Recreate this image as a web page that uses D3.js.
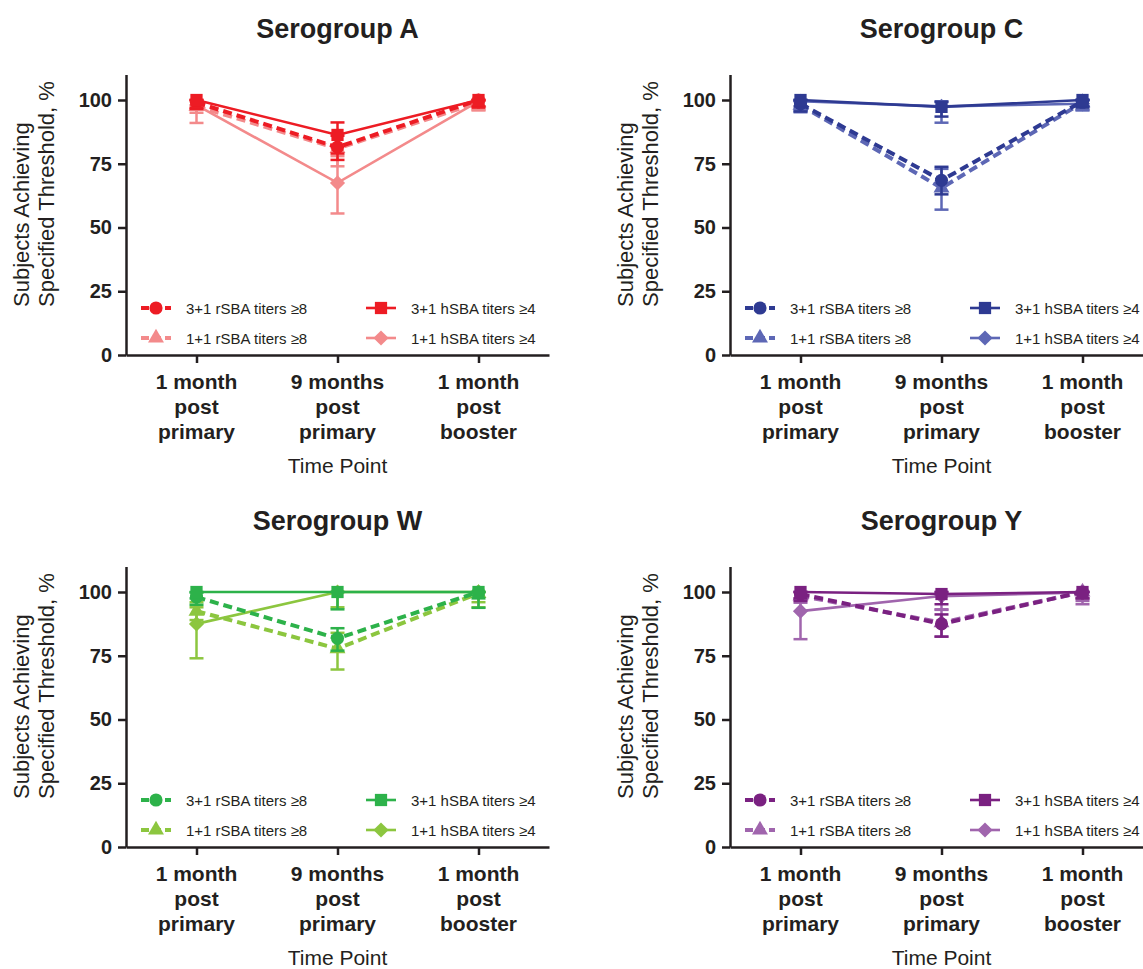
<!DOCTYPE html>
<html lang="en">
<head>
<meta charset="utf-8">
<title>Serogroup response by time point</title>
<script src="https://d3js.org/d3.v7.min.js"></script>
<style>
    body { margin: 0; background: #fff; }
    #chart1 { width: 1143px; height: 969px; }
    svg text { font-family: "Liberation Sans", Arial, Helvetica, sans-serif; fill: #231F20; }
</style>
</head>
<body>
<div id="chart1"></div>

<script>

    // ---- data ----
    const timeLabels = [["1 month", "post", "primary"], ["9 months", "post", "primary"], ["1 month", "post", "booster"]];
    const seriesLabels = ["3+1 rSBA titers \u22658", "1+1 rSBA titers \u22658", "3+1 hSBA titers \u22654", "1+1 hSBA titers \u22654"];
    const groupTitles = ["Serogroup A", "Serogroup C", "Serogroup W", "Serogroup Y"];
    const yTickValues = [0, 25, 50, 75, 100];

    // rows: 3+1 rSBA, 1+1 rSBA, 3+1 hSBA, 1+1 hSBA; columns: the three time points
    const pctA  = [[99.0, 81.5, 100], [97.5, 81.0, 99.0], [100, 86.3, 100], [98.0, 67.5, 99.5]];
    const lowA  = [[96.5, 76.5, 97.5], [95.0, 74.0, 96.0], [97.0, 79.0, 97.0], [91.0, 55.5, 96.0]];
    const highA = [[100, 86.0, 100], [99.5, 87.0, 100], [100, 91.2, 100], [100, 78.0, 100]];

    const pctC  = [[98.5, 68.5, 99.5], [98.0, 65.5, 99.0], [100, 97.3, 100], [99.5, 97.5, 98.5]];
    const lowC  = [[95.5, 63.0, 97.0], [95.2, 57.0, 96.0], [97.5, 93.5, 97.5], [96.0, 91.1, 96.0]];
    const highC = [[100, 73.8, 100], [99.5, 73.0, 100], [100, 99.2, 100], [100, 99.5, 100]];

    const pctW  = [[98.0, 81.8, 100], [92.5, 77.8, 99.5], [100, 100, 100], [87.5, 100, 100]];
    const lowW  = [[95.0, 77.0, 97.5], [89.0, 69.6, 96.0], [97.5, 93.2, 93.8], [74.0, 94.0, 94.0]];
    const highW = [[99.8, 85.8, 100], [96.0, 84.0, 100], [100, 100, 100], [94.0, 100, 100]];

    const pctY  = [[99.2, 87.5, 100], [98.5, 88.0, 100], [100, 99.2, 100], [92.5, 98.4, 99.8]];
    const lowY  = [[96.5, 82.5, 97.5], [95.8, 82.5, 96.5], [97.5, 95.2, 97.5], [81.5, 93.2, 95.2]];
    const highY = [[100, 91.2, 100], [100, 93.0, 100], [100, 100, 100], [97.5, 100, 100]];

    const groupData = [
        {pct: pctA, low: lowA, high: highA},
        {pct: pctC, low: lowC, high: highC},
        {pct: pctW, low: lowW, high: highW},
        {pct: pctY, low: lowY, high: highY}
    ];

    // ---- styles ----
    const palettes = [
        ["#ED1C24", "#F38A8B"],
        ["#2E3A92", "#5D67B5"],
        ["#2DB24A", "#8CC63F"],
        ["#7A2181", "#A065AD"]
    ];
    // shade 0 = dark, 1 = light
    const seriesStyle = [
        {shade: 0, dashed: true,  symbol: "circle"},
        {shade: 1, dashed: true,  symbol: "triangle"},
        {shade: 0, dashed: false, symbol: "square"},
        {shade: 1, dashed: false, symbol: "diamond"}
    ];
    const drawOrder = [3, 1, 0, 2];

    const serogroupApp = {};

    serogroupApp.symbolPath = (name) => {
        if (name === "circle") return d3.symbol(d3.symbolCircle, 135)();
        if (name === "triangle") return d3.symbol(d3.symbolTriangle, 110)();
        if (name === "square") return d3.symbol(d3.symbolSquare, 150)();
        return d3.symbol(d3.symbolSquare, 115)();  // diamond = rotated square
    };

    serogroupApp.addMarker = (sel, name, color, x, y) => {
        sel.append("path")
            .attr("d", serogroupApp.symbolPath(name))
            .attr("transform", "translate(" + x + "," + y + ")" + (name === "diamond" ? " rotate(45)" : ""))
            .attr("fill", color);
    };

    serogroupApp.buildChart = () => {

        d3.select("#chart1").html("");

        const svg = d3.select("#chart1")
            .append("svg")
            .attr("width", 1143)
            .attr("height", 969);

        const plotW = 423;
        const yMax = 110;
        const pxPerUnit = 2.55;
        const plotH = yMax * pxPerUnit;
        const axisX = [126, 730];
        const zeroY = [355, 847];
        const ink = "#231F20";

        groupTitles.forEach((title, gi) => {
            const col = gi % 2, row = Math.floor(gi / 2);
            const left = axisX[col];
            const top = zeroY[row] - plotH;
            const colors = palettes[gi];
            const d = groupData[gi];

            const g = svg.append("g").attr("transform", "translate(" + left + "," + top + ")");

            const x = d3.scalePoint().domain([0, 1, 2]).range([0, plotW]).padding(0.5);
            const y = d3.scaleLinear().domain([0, yMax]).range([plotH, 0]);

            // title
            g.append("text")
                .attr("x", plotW / 2)
                .attr("y", -37)
                .attr("text-anchor", "middle")
                .style("font-size", "27px")
                .style("font-weight", "bold")
                .text(title);

            // y axis
            const yAxis = g.append("g")
                .call(d3.axisLeft(y).tickValues(yTickValues).tickSize(8).tickPadding(6).tickSizeOuter(0));
            yAxis.select(".domain").attr("stroke", ink).attr("stroke-width", 2.5);
            yAxis.selectAll(".tick line").attr("stroke", ink).attr("stroke-width", 2.5);
            yAxis.selectAll(".tick text")
                .attr("fill", ink)
                .style("font-size", "20px")
                .style("font-weight", "bold")
                .style("font-family", "'Liberation Sans', Arial, sans-serif");

            // x axis
            const xAxis = g.append("g")
                .attr("transform", "translate(0," + plotH + ")")
                .call(d3.axisBottom(x).tickSize(8).tickSizeOuter(0).tickFormat(""));
            xAxis.select(".domain").attr("stroke", ink).attr("stroke-width", 2.5);
            xAxis.selectAll(".tick line").attr("stroke", ink).attr("stroke-width", 2.5);

            timeLabels.forEach((lines, ti) => {
                const t = g.append("text")
                    .attr("text-anchor", "middle")
                    .style("font-size", "21px")
                    .style("font-weight", "bold");
                lines.forEach((ln, li) => {
                    t.append("tspan")
                        .attr("x", x(ti))
                        .attr("y", plotH + 34 + li * 25)
                        .text(ln);
                });
            });

            g.append("text")
                .attr("x", plotW / 2)
                .attr("y", plotH + 118)
                .attr("text-anchor", "middle")
                .style("font-size", "21px")
                .text("Time Point");

            // y axis title (two lines)
            const yt = g.append("g")
                .attr("transform", "translate(" + (-97) + "," + (plotH - 48) + ") rotate(-90)");
            yt.append("text").attr("x", 0).attr("y", 0)
                .attr("text-anchor", "start")
                .style("font-size", "22px")
                .text("Subjects Achieving");
            yt.append("text").attr("x", 0).attr("y", 25)
                .attr("text-anchor", "start")
                .style("font-size", "22px")
                .text("Specified Threshold, %");

            // series
            const line = d3.line()
                .x((v, i) => x(i))
                .y(v => y(v));

            drawOrder.forEach(si => {
                const st = seriesStyle[si];
                const color = colors[st.shade];
                const sg = g.append("g");

                sg.append("path")
                    .datum(d.pct[si])
                    .attr("d", line)
                    .attr("fill", "none")
                    .attr("stroke", color)
                    .attr("stroke-width", st.dashed ? 4 : 2.6)
                    .attr("stroke-dasharray", st.dashed ? "9,5" : null);

                d.pct[si].forEach((v, ti) => {
                    const lo = d.low[si][ti], hi = d.high[si][ti];
                    const cx = x(ti);
                    sg.append("line")
                        .attr("x1", cx).attr("x2", cx)
                        .attr("y1", y(lo)).attr("y2", y(hi))
                        .attr("stroke", color).attr("stroke-width", 2.5);
                    [lo, hi].forEach(e => {
                        sg.append("line")
                            .attr("x1", cx - 7).attr("x2", cx + 7)
                            .attr("y1", y(e)).attr("y2", y(e))
                            .attr("stroke", color).attr("stroke-width", 2.5);
                    });
                    serogroupApp.addMarker(sg, st.symbol, color, cx, y(v));
                });
            });

            // legend
            const legend = g.append("g");
            seriesLabels.forEach((lab, si) => {
                const st = seriesStyle[si];
                const color = colors[st.shade];
                const lx = si < 2 ? 15 : 240;
                const ly = plotH - (si % 2 === 0 ? 47 : 17);
                legend.append("line")
                    .attr("x1", lx).attr("x2", lx + 30)
                    .attr("y1", ly).attr("y2", ly)
                    .attr("stroke", color)
                    .attr("stroke-width", st.dashed ? 4 : 2.6)
                    .attr("stroke-dasharray", st.dashed ? "8,4" : null);
                serogroupApp.addMarker(legend, st.symbol, color, lx + 15, ly);
                legend.append("text")
                    .attr("x", lx + 45)
                    .attr("y", ly + 5.5)
                    .style("font-size", "15px")
                    .text(lab);
            });
        });
    };

    serogroupApp.buildChart();

</script>
</body>
</html>
